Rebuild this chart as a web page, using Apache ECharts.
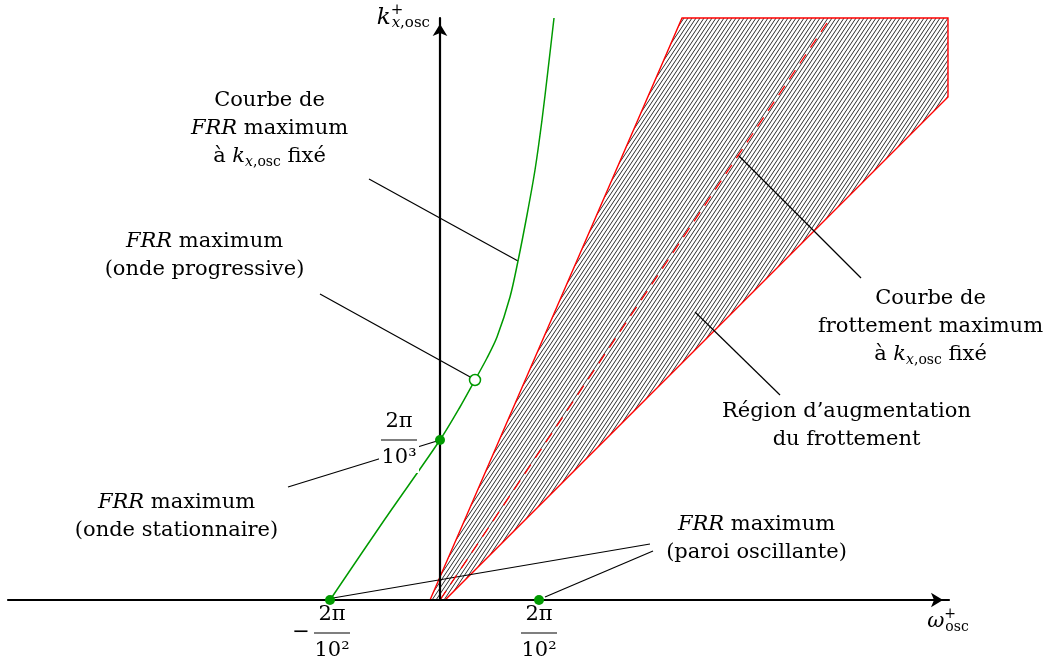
<!DOCTYPE html>
<html><head><meta charset="utf-8">
<script src="https://cdn.jsdelivr.net/npm/echarts@6/dist/echarts.min.js"></script>
<style>html,body{margin:0;padding:0;background:#fff}#c{width:1049px;height:664px}</style>
</head><body><div id="c"></div>
<script>
// Schematic diagram: units are arbitrary (origin = axis crossing)
const xRange = [-432, 509];
const yRange = [0, 582];

// green curve: FRR maximum at fixed k
const greenCurveX = [-110, -55, 0, 20, 35, 47, 57, 70, 78, 87, 95, 102, 108, 114];
const greenCurveY = [0, 81, 160, 193, 220, 242, 263, 303, 339, 385, 430, 480, 530, 582];

// hatched region: drag increase
const regionX = [-10, 242, 508, 508, 5];
const regionY = [0, 582, 582, 503, 0];

// dashed red line: max drag at fixed k
const dashedX = [0, 387];
const dashedY = [0, 577];

// marked points
const filledPointsX = [-110, 0, 99];
const filledPointsY = [0, 160, 0];
const openPointX = [35];
const openPointY = [220];

// tick labels
const xTickValues = [-110, 99];
const xTickLabels = ['-2π/10²', '2π/10²'];
const yTickValues = [160];
const yTickLabels = ['2π/10³'];

// leader lines (start / end)
const leaderStartX = [-71, -120, -152, 210, 213, 298, 255];
const leaderStartY = [421, 306, 113, 56, 49, 445, 288];
const leaderEndX = [78, 32, -3, -107, 105, 421, 340];
const leaderEndY = [339, 222, 159, 2, 3, 322, 205];

// annotation texts and anchors
const annotationX = [-170, -235, -263, 317, 491, 407];
const annotationY = [471, 344, 83, 61, 273, 174];
const annotationText = [
  'Courbe de\n{i|FRR} maximum\nà {i|k}{si|x}{s|,osc} fixé',
  '{i|FRR} maximum\n(onde progressive)',
  '{i|FRR} maximum\n(onde stationnaire)',
  '{i|FRR} maximum\n(paroi oscillante)',
  'Courbe de\nfrottement maximum\nà {i|k}{si|x}{s|,osc} fixé',
  'Région d’augmentation\ndu frottement'
];

const SERIF = '"DejaVu Serif", serif';
const INK = '#000';
const GREEN = '#009a00';
const RED = '#ff0000';
const FS = 21, LH = 28;

const mathRich = {
  i: {fontFamily: SERIF, fontStyle: 'italic', fontSize: FS, lineHeight: LH, color: INK},
  si: {fontFamily: SERIF, fontStyle: 'italic', fontSize: 14, height: 17, verticalAlign: 'bottom', lineHeight: LH, color: INK},
  s: {fontFamily: SERIF, fontSize: 14, height: 17, verticalAlign: 'bottom', lineHeight: LH, color: INK}
};

function tok(extra) { return Object.assign({fontFamily: SERIF, color: INK}, extra); }
const fracRich = {
  num: tok({fontSize: FS, lineHeight: 26, width: 36, align: 'center'}),
  den: tok({fontSize: FS, lineHeight: 26, width: 36, align: 'center'}),
  bar: tok({fontSize: 1, backgroundColor: '#000', height: 1.2, lineHeight: 10, width: 36, align: 'center'}),
  m: tok({fontSize: FS, lineHeight: 10, width: 26, align: 'center'}),
  sp1: tok({fontSize: 1, lineHeight: 10, width: 26, align: 'center'}),
  sp2: tok({fontSize: 1, lineHeight: 10, width: 22, align: 'center'})
};
function fracLabel(txt) {
  const neg = txt.charAt(0) === '-';
  const parts = (neg ? txt.slice(1) : txt).split('/');
  if (neg) {
    return '{sp1| }{num|' + parts[0] + '}{sp2| }\n{m|−}{bar| }{sp2| }\n{sp1| }{den|' + parts[1] + '}{sp2| }';
  }
  return '{num|' + parts[0] + '}\n{bar| }\n{den|' + parts[1] + '}';
}

// hatch pattern
function hatchCanvas() {
  const w = 4, h = 6;
  const c = document.createElement('canvas');
  c.width = w; c.height = h;
  const g = c.getContext('2d');
  g.fillStyle = '#fff'; g.fillRect(0, 0, w, h);
  g.strokeStyle = '#222'; g.lineWidth = 0.95;
  for (const o of [-w, 0, w]) { g.beginPath(); g.moveTo(o, h); g.lineTo(o + w, 0); g.stroke(); }
  return c;
}
const hatch = hatchCanvas();

const chart = echarts.init(document.getElementById('c'), null, {renderer: 'canvas'});
const axisLineStyle = {color: '#000', width: 2.2};
const GRID_LEFT = 8;

const option = {
  animation: false,
  textStyle: {fontFamily: SERIF},
  grid: {left: GRID_LEFT, right: 100, top: 18, bottom: 64, containLabel: false, outerBoundsMode: 'none'},
  xAxis: {
    type: 'value', min: xRange[0], max: xRange[1], z: 3,
    axisLine: {onZero: false, lineStyle: axisLineStyle, symbol: ['none', 'arrow'], symbolSize: [11, 12], symbolOffset: [0, -6]},
    axisTick: {show: false}, splitLine: {show: false},
    axisLabel: {
      customValues: xTickValues, margin: 2, color: INK, fontFamily: SERIF, fontSize: FS,
      formatter: v => fracLabel(xTickLabels[xTickValues.indexOf(v)]),
      rich: fracRich
    },
    name: '{w|ω}{sup|+}{s|osc}', nameLocation: 'end', nameGap: -1,
    nameTextStyle: {
      align: 'center', verticalAlign: 'top', padding: [8, 0, 0, 0], fontFamily: SERIF, fontSize: FS, lineHeight: LH, color: INK,
      rich: {
        w: tok({fontStyle: 'italic', fontSize: FS, lineHeight: LH, align: 'left'}),
        sup: tok({fontSize: 14, height: 13, verticalAlign: 'top', lineHeight: LH, width: 1, align: 'left'}),
        s: tok({fontSize: 14, height: 17, verticalAlign: 'bottom', lineHeight: LH, align: 'left'})
      }
    }
  },
  yAxis: {
    type: 'value', min: yRange[0], max: yRange[1], z: 3,
    position: 'left', offset: xRange[0],
    axisLine: {onZero: false, lineStyle: axisLineStyle, symbol: ['none', 'arrow'], symbolSize: [11, 12], symbolOffset: [0, -6]},
    axisTick: {show: false}, splitLine: {show: false},
    axisLabel: {
      customValues: yTickValues, margin: 21, color: INK, fontFamily: SERIF, fontSize: FS,
      backgroundColor: '#fff', padding: [2, 2, 2, 2],
      formatter: v => fracLabel(yTickLabels[yTickValues.indexOf(v)]),
      rich: fracRich
    },
    name: '{k|k}{sup|+}{si|x}{s|,osc}', nameLocation: 'end', nameGap: 0,
    nameTextStyle: {
      align: 'right', verticalAlign: 'middle', padding: [0, 10, 0, 0], fontFamily: SERIF, fontSize: FS, lineHeight: LH, color: INK,
      rich: {
        k: tok({fontStyle: 'italic', fontSize: 23, lineHeight: LH, align: 'left'}),
        sup: tok({fontSize: 15, height: 13, verticalAlign: 'top', lineHeight: LH, width: 1, align: 'left'}),
        si: tok({fontStyle: 'italic', fontSize: 15, height: 17, verticalAlign: 'bottom', lineHeight: LH, align: 'left'}),
        s: tok({fontSize: 15, height: 17, verticalAlign: 'bottom', lineHeight: LH, align: 'left'})
      }
    }
  },
  series: [
    {
      type: 'custom', name: 'region', z: 1, clip: false,
      data: [0],
      renderItem: (params, api) => ({
        type: 'polygon',
        shape: {points: regionX.map((x, i) => api.coord([x, regionY[i]]))},
        style: {fill: {image: hatch, repeat: 'repeat'}, stroke: RED, lineWidth: 1.4}
      })
    },
    {
      type: 'line', name: 'dashed', z: 2, symbol: 'none',
      data: dashedX.map((x, i) => [x, dashedY[i]]),
      lineStyle: {color: RED, width: 1.3, type: [11, 8]}
    },
    {
      type: 'line', name: 'green', z: 2, symbol: 'none', smooth: 0.3,
      data: greenCurveX.map((x, i) => [x, greenCurveY[i]]),
      lineStyle: {color: GREEN, width: 1.5}
    },
    {
      type: 'lines', coordinateSystem: 'cartesian2d', z: 2, polyline: false,
      data: leaderStartX.map((x, i) => ({coords: [[x, leaderStartY[i]], [leaderEndX[i], leaderEndY[i]]]})),
      lineStyle: {color: '#000', width: 1.2, opacity: 1}
    },
    {
      type: 'scatter', z: 5, symbolSize: 10,
      data: filledPointsX.map((x, i) => [x, filledPointsY[i]]),
      itemStyle: {color: GREEN, opacity: 1}
    },
    {
      type: 'scatter', z: 5, symbolSize: 11,
      data: openPointX.map((x, i) => [x, openPointY[i]]),
      itemStyle: {color: '#fff', borderColor: GREEN, borderWidth: 1.5, opacity: 1}
    },
    {
      type: 'scatter', z: 6, symbolSize: 1, itemStyle: {color: 'rgba(255,255,255,0)', opacity: 1},
      data: annotationX.map((x, i) => [x, annotationY[i]]),
      label: {
        show: true, position: [0, 0], align: 'center', verticalAlign: 'middle', opacity: 1,
        fontFamily: SERIF, fontSize: FS, lineHeight: LH, color: INK,
        formatter: p => annotationText[p.dataIndex],
        rich: mathRich
      },
      emphasis: {disabled: true}
    }
  ]
};
chart.setOption(option);
</script>
</body></html>
